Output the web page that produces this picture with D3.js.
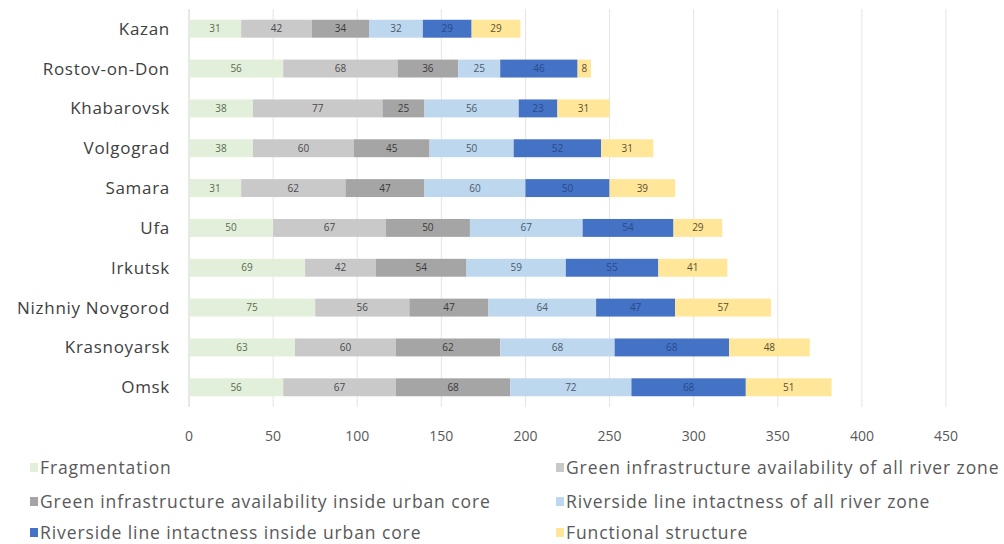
<!DOCTYPE html>
<html><head><meta charset="utf-8">
<script src="https://cdn.jsdelivr.net/npm/d3@7"></script>
<style>body{margin:0;background:#fff;} svg{display:block;font-family:"Open Sans",sans-serif;}</style>
</head><body>
<svg id="c" width="1004" height="544"></svg>
<script>
const cities = ["Kazan","Rostov-on-Don","Khabarovsk","Volgograd","Samara","Ufa","Irkutsk","Nizhniy Novgorod","Krasnoyarsk","Omsk"];
const seriesNames = ["Fragmentation","Green infrastructure availability of all river zone","Green infrastructure availability inside urban core","Riverside line intactness of all river zone","Riverside line intactness inside urban core","Functional structure"];
const fragmentation = [31,56,38,38,31,50,69,75,63,56];
const greenAll = [42,68,77,60,62,67,42,56,60,67];
const greenCore = [34,36,25,45,47,50,54,47,62,68];
const riversideAll = [32,25,56,50,60,67,59,64,68,72];
const riversideCore = [29,46,23,52,50,54,55,47,68,68];
const functional = [29,8,31,31,39,29,41,57,48,51];
const xTicks = [0,50,100,150,200,250,300,350,400,450];
const colors = ["#e2efda","#c9c9c9","#a5a5a5","#bdd7ee","#4472c4","#ffe699"];
const labelColors = ["#5a6b50","#4a4a4a","#3a3a3a","#4a5a6a","#2a4a8a","#5a5030"];

const series = [fragmentation,greenAll,greenCore,riversideAll,riversideCore,functional];
const rows = cities.map((c,i)=>{const o={city:c}; seriesNames.forEach((s,j)=>o[s]=series[j][i]); return o;});
const stack = d3.stack().keys(seriesNames)(rows);

const svg = d3.select("#c");
const m = {left:189, right:946, top:9, bottom:407};
const x = d3.scaleLinear().domain([0,450]).range([m.left,m.right]);
const y = d3.scaleBand().domain(cities).range([m.top,m.bottom]).paddingInner(0.55).paddingOuter(0.27);

// gridlines
svg.append("g").selectAll("line").data(xTicks).join("line")
  .attr("x1",d=>x(d)).attr("x2",d=>x(d)).attr("y1",m.top).attr("y2",m.bottom)
  .attr("stroke",d=>d===0?"#d0d0d0":"#e4e4e4").attr("stroke-width",1);

// x tick labels
svg.append("g").selectAll("text").data(xTicks).join("text")
  .attr("x",d=>x(d)).attr("y",441).attr("text-anchor","middle")
  .attr("font-size",14).attr("fill","#595959").text(d=>d);

// category labels
svg.append("g").selectAll("text").data(cities).join("text")
  .attr("x",170).attr("y",d=>y(d)+y.bandwidth()/2).attr("dy","0.35em")
  .attr("text-anchor","end").attr("font-size",17).attr("letter-spacing",0.7).attr("fill","#404040").text(d=>d);

// bars
const g = svg.append("g");
stack.forEach((layer,j)=>{
  const lg = g.append("g");
  lg.selectAll("rect").data(layer).join("rect")
    .attr("x",d=>x(d[0])).attr("width",d=>x(d[1])-x(d[0]))
    .attr("y",d=>y(d.data.city)).attr("height",y.bandwidth())
    .attr("fill",colors[j]);
  lg.selectAll("text").data(layer).join("text")
    .attr("x",d=>(x(d[0])+x(d[1]))/2).attr("y",d=>y(d.data.city)+y.bandwidth()/2).attr("dy","0.35em")
    .attr("text-anchor","middle").attr("font-size",10).attr("fill",labelColors[j])
    .text(d=>d[1]-d[0]);
});

// legend
const legPos = [[30,468],[556,468],[30,502],[556,502],[30,533],[556,533]];
const lg = svg.append("g");
seriesNames.forEach((s,i)=>{
  const [lx,ly] = legPos[i];
  lg.append("rect").attr("x",lx).attr("y",ly-5).attr("width",8).attr("height",9).attr("fill",colors[i]);
  lg.append("text").attr("x",lx+10).attr("y",ly).attr("dy","0.35em").attr("font-size",17.5)
    .attr("letter-spacing",0.9).attr("fill","#595959").text(s);
});
</script>
</body></html>
